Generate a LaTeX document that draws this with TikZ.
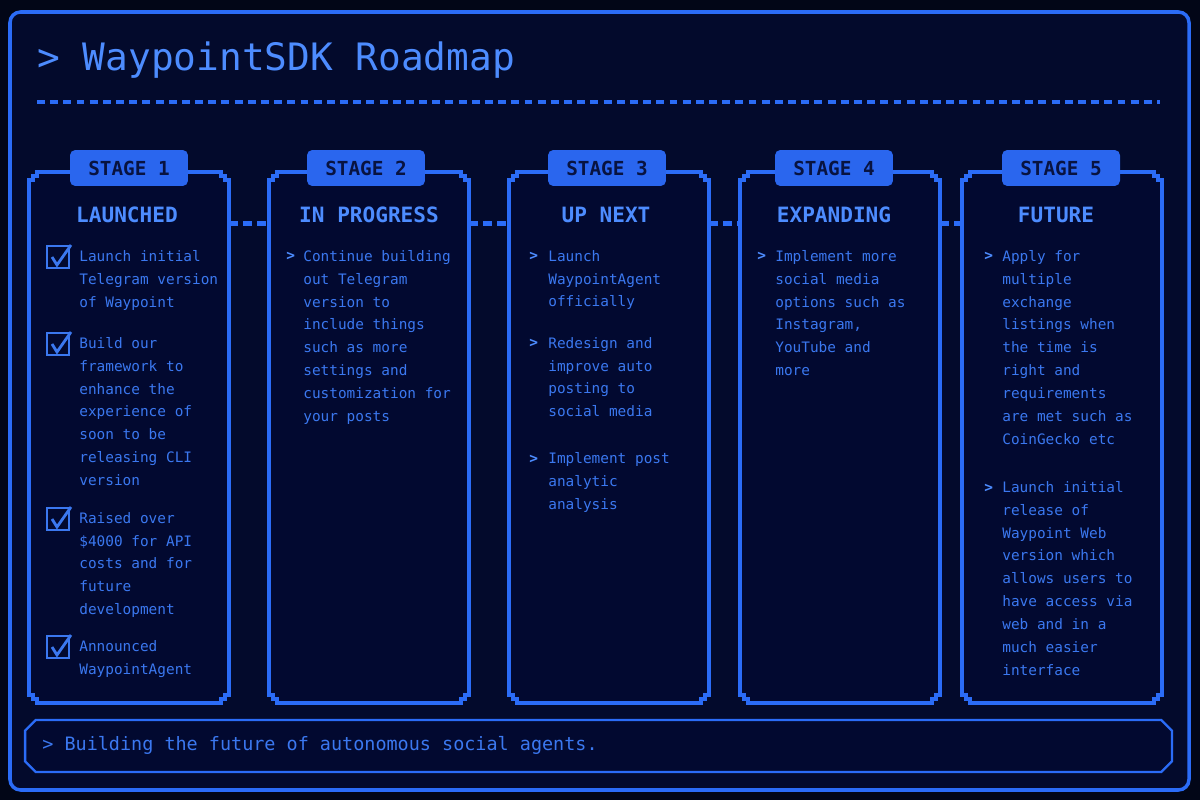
\documentclass[tikz,border=0pt]{standalone}
\usepackage{fontspec}
\setmainfont{DejaVu Sans Mono}
\usepackage{tikz}
\usetikzlibrary{calc, shapes.misc}
\definecolor{wpbg}{HTML}{020617}
\definecolor{wppanel}{HTML}{030A2C}
\definecolor{wpcard}{HTML}{020930}
\definecolor{wpline}{HTML}{2B6CF7}
\definecolor{wptext}{HTML}{3B78F0}
\definecolor{wphead}{HTML}{4D8CFF}
\definecolor{wptab}{HTML}{2A66EE}
\definecolor{wpdark}{HTML}{081340}

% stepped card outline round a named node
\newcommand{\stepframe}[1]{%
  \draw[cardline] ($(#1.north west)+(0,8)$) -- ++(4,0) -- ++(0,-4) -- ++(4,0) -- ++(0,-4)
    -- ($(#1.north east)+(-8,0)$) -- ++(0,4) -- ++(4,0) -- ++(0,4) -- ++(4,0)
    -- ($(#1.south east)+(0,-8)$) -- ++(-4,0) -- ++(0,4) -- ++(-4,0) -- ++(0,4)
    -- ($(#1.south west)+(8,0)$) -- ++(0,-4) -- ++(-4,0) -- ++(0,-4) -- ++(-4,0) -- cycle;}
% check mark in a box
\newcommand{\tickmark}[1]{%
  \draw[tickline] ($(#1.center)+(-6,0)$) -- ($(#1.center)+(-1,8)$) -- ($(#1.center)+(13,-12)$);}

\begin{document}
\begin{tikzpicture}[x=0.02cm, y=-0.02cm,
  card/.style={minimum width=4cm, minimum height=10.62cm, inner sep=0pt},
  cardline/.style={draw=wpline, line width=2.2pt, fill=wpcard},
  tab/.style={rounded corners=3pt, fill=wptab, minimum width=2.36cm, minimum height=0.72cm,
              inner sep=0pt, font=\fontsize{11}{13}\selectfont\bfseries, text=wpdark},
  head/.style={font=\fontsize{12}{14}\selectfont\bfseries, text=wphead},
  txt/.style={anchor=north west, inner sep=0pt, align=left,
              font=\fontsize{8.2}{13}\selectfont, text=wptext},
  bul/.style={anchor=base west, inner sep=0pt, font=\fontsize{8.2}{13}\selectfont\bfseries, text=wphead},
  chk/.style={draw=wptext, line width=1.2pt, minimum size=0.44cm, inner sep=0pt},
  tickline/.style={draw=wptext, line width=1.6pt},
  link/.style={draw=wpline, line width=3pt, dash pattern=on 5pt off 3pt},
]
  \fill[wpbg] (0,0) rectangle (1200,800);
  \useasboundingbox (0,0) rectangle (1200,800);
  \draw[draw=wpline, line width=2pt, fill=wppanel, rounded corners=6pt] (10,12) rectangle (1189,790);

  % Title
  \node[anchor=west, inner sep=0pt, font=\fontsize{21.5}{24}\selectfont, text=wphead] (title) at (37,60)
    {> WaypointSDK Roadmap};
  \draw[wpline, line width=1.8pt, dash pattern=on 4.5pt off 3pt] (37,102) -- (1160,102);

  % Cards
  \node[card] (card1) at (129,437.5) {};
  \node[card] (card2) at (369,437.5) {};
  \node[card] (card3) at (609,437.5) {};
  \node[card] (card4) at (840,437.5) {};
  \node[card] (card5) at (1062,437.5) {};
  \stepframe{card1}
  \stepframe{card2}
  \stepframe{card3}
  \stepframe{card4}
  \stepframe{card5}

  \draw[link] ($(card1.north east)+(0,52)$) -- ($(card2.north west)+(0,52)$);
  \draw[link] ($(card2.north east)+(0,52)$) -- ($(card3.north west)+(0,52)$);
  \draw[link] ($(card3.north east)+(0,52)$) -- ($(card4.north west)+(0,52)$);
  \draw[link] ($(card4.north east)+(0,52)$) -- ($(card5.north west)+(0,52)$);

  \node[tab] (tab1) at (129,168) {STAGE 1};
  \node[tab] (tab2) at (366,168) {STAGE 2};
  \node[tab] (tab3) at (607,168) {STAGE 3};
  \node[tab] (tab4) at (834,168) {STAGE 4};
  \node[tab] (tab5) at (1061,168) {STAGE 5};

  \node[head] (head1) at (127,215) {LAUNCHED};
  \node[head] (head2) at (369,215) {IN PROGRESS};
  \node[head] (head3) at (606,215) {UP NEXT};
  \node[head] (head4) at (834,215) {EXPANDING};
  \node[head] (head5) at (1056,215) {FUTURE};

  % Stage 1
  \node[chk] (chk1) at (58,257) {};
  \node[chk] (chk2) at (58,344) {};
  \node[chk] (chk3) at (58,519) {};
  \node[chk] (chk4) at (58,647) {};
  \tickmark{chk1}
  \tickmark{chk2}
  \tickmark{chk3}
  \tickmark{chk4}
  \node[txt] (s1a) at (79,250) {Launch initial\\Telegram version\\of Waypoint};
  \node[txt] (s1b) at (79,337) {Build our\\framework to\\enhance the\\experience of\\soon to be\\releasing CLI\\version};
  \node[txt] (s1c) at (79,512) {Raised over\\\$4000 for API\\costs and for\\future\\development};
  \node[txt] (s1d) at (79,640) {Announced\\WaypointAgent};

  % Stage 2
  \node[bul] (b2a) at (286,261) {>};
  \node[txt] (s2a) at (303,250) {Continue building\\out Telegram\\version to\\include things\\such as more\\settings and\\customization for\\your posts};

  % Stage 3
  \node[bul] (b3a) at (529,261) {>};
  \node[bul] (b3b) at (529,348) {>};
  \node[bul] (b3c) at (529,463) {>};
  \node[txt] (s3a) at (548,250) {Launch\\WaypointAgent\\officially};
  \node[txt] (s3b) at (548,337) {Redesign and\\improve auto\\posting to\\social media};
  \node[txt] (s3c) at (548,452) {Implement post\\analytic\\analysis};

  % Stage 4
  \node[bul] (b4a) at (757,261) {>};
  \node[txt] (s4a) at (775,250) {Implement more\\social media\\options such as\\Instagram,\\YouTube and\\more};

  % Stage 5
  \node[bul] (b5a) at (984,261) {>};
  \node[bul] (b5b) at (984,492) {>};
  \node[txt] (s5a) at (1002,250) {Apply for\\multiple\\exchange\\listings when\\the time is\\right and\\requirements\\are met such as\\CoinGecko etc};
  \node[txt] (s5b) at (1002,481) {Launch initial\\release of\\Waypoint Web\\version which\\allows users to\\have access via\\web and in a\\much easier\\interface};

  % Footer
  \node[chamfered rectangle, chamfered rectangle xsep=3pt, chamfered rectangle ysep=3pt,
        draw=wpline, line width=1.3pt, fill=wpcard, minimum width=22.94cm, minimum height=1.04cm]
        (footbar) at (598.5,746) {};
  \node[anchor=west, inner sep=0pt, font=\fontsize{10.5}{12}\selectfont, text=wptext] (foottext) at (42,745)
    {> Building the future of autonomous social agents.};
\end{tikzpicture}
\end{document}
